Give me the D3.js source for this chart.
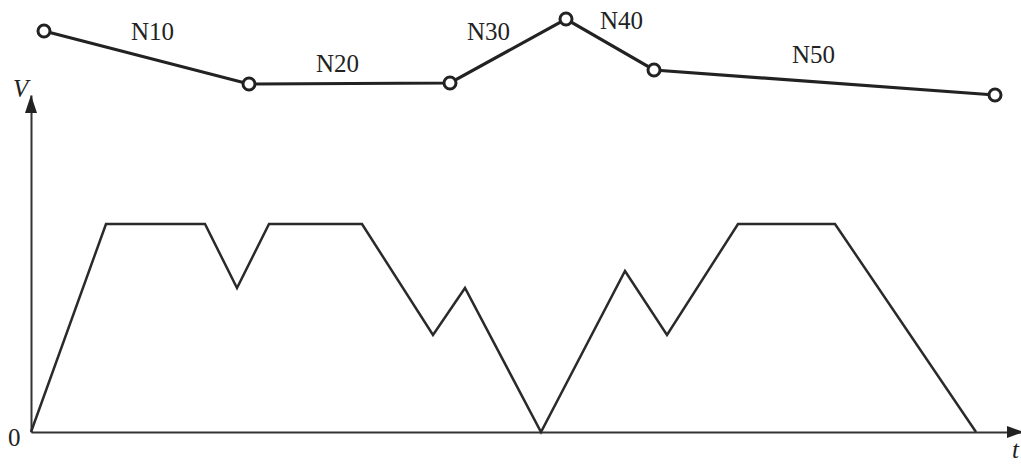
<!DOCTYPE html>
<html><head><meta charset="utf-8">
<script src="https://cdn.jsdelivr.net/npm/d3@7/dist/d3.min.js"></script>
<style>html,body{margin:0;padding:0;background:#fff;overflow:hidden}</style>
</head><body><svg id="c" width="1021" height="464"></svg>
<script>
// velocity profile (t, V)
const profileT = [0, 75, 174, 206, 238, 331, 402, 434, 510, 594, 636, 707, 804, 945];
const profileV = [0, 208, 208, 144, 208, 208, 97, 144, 0, 161, 97, 208, 208, 0];
// tool path nodes (position along t, height)
const nodeT = [13, 218, 419, 535, 623, 964];
const nodeZ = [64, 11, 12, 76, 25, 0];
// segment labels
const segLabels = ["N10", "N20", "N30", "N40", "N50"];
const labelT = [121.5, 306.5, 457.5, 590.5, 782.5];
const labelZ = [55.5, 23, 55.5, 66, 32];

const svg = d3.select("#c");
const ink = "#222";
const font = "Liberation Serif, serif";

const x = d3.scaleLinear().domain([0, 993]).range([31, 1024]);
const y = d3.scaleLinear().domain([0, 337]).range([432, 95]);
const yp = d3.scaleLinear().domain([0, 100]).range([95, -5]);

// axes
const xAxis = d3.axisBottom(x).tickValues([]).tickSizeOuter(0);
svg.append("g").attr("transform", `translate(0,${y(0)})`).call(xAxis)
  .select(".domain").attr("stroke", "#333").attr("stroke-width", 2);
const yAxis = d3.axisLeft(y).tickValues([]).tickSizeOuter(0);
svg.append("g").attr("transform", `translate(${x(0)},0)`).call(yAxis)
  .select(".domain").attr("stroke", "#333").attr("stroke-width", 2);

// arrowheads
const x1 = x.range()[1];
svg.append("path")
  .attr("d", `M${x1},${y(0)} L${x1 - 17},${y(0) - 6} L${x1 - 17},${y(0) + 6} Z`)
  .attr("fill", ink);
const yt = y.range()[1];
svg.append("path")
  .attr("d", `M${x(0)},${yt} L${x(0) - 6},${yt + 18} L${x(0) + 6},${yt + 18} Z`)
  .attr("fill", ink);

// axis labels
svg.append("text").attr("x", 13).attr("y", 97).attr("font-family", font)
  .attr("font-style", "italic").attr("font-size", 25).attr("fill", ink).text("V");
svg.append("text").attr("x", 8).attr("y", 446).attr("font-family", font)
  .attr("font-size", 25).attr("fill", ink).text("0");
svg.append("text").attr("x", 1012).attr("y", 458).attr("font-family", font)
  .attr("font-style", "italic").attr("font-size", 25).attr("fill", ink).text("t");

// velocity profile
const line = d3.line().x((d, i) => x(profileT[i])).y((d, i) => y(profileV[i]));
svg.append("path").datum(profileT).attr("d", line)
  .attr("fill", "none").attr("stroke", "#2a2a2a").attr("stroke-width", 2.5)
  .attr("stroke-linejoin", "miter");

// tool path
const pline = d3.line().x((d, i) => x(nodeT[i])).y((d, i) => yp(nodeZ[i]));
svg.append("path").datum(nodeT).attr("d", pline)
  .attr("fill", "none").attr("stroke", ink).attr("stroke-width", 3.2);
svg.selectAll("circle.node").data(nodeT).enter().append("circle")
  .attr("class", "node")
  .attr("cx", d => x(d)).attr("cy", (d, i) => yp(nodeZ[i]))
  .attr("r", 6).attr("fill", "#fff").attr("stroke", ink).attr("stroke-width", 3);

svg.selectAll("text.seg").data(segLabels).enter().append("text")
  .attr("class", "seg")
  .attr("x", (d, i) => x(labelT[i])).attr("y", (d, i) => yp(labelZ[i]))
  .attr("text-anchor", "middle").attr("font-family", font)
  .attr("font-size", 25).attr("fill", ink).text(d => d);
</script></body></html>
